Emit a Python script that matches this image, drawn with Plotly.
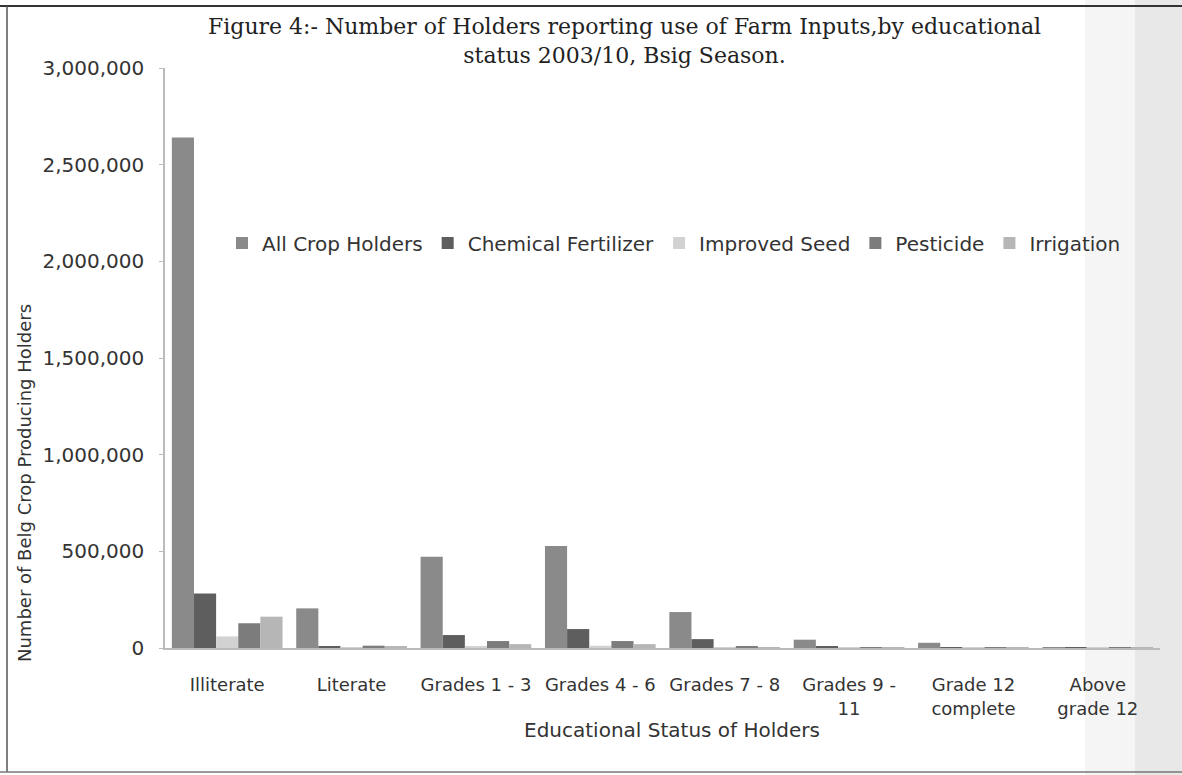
import plotly.graph_objects as go

categories = ["Illiterate", "Literate", "Grades 1 - 3", "Grades 4 - 6", "Grades 7 - 8",
              "Grades 9 -<br>11", "Grade 12<br>complete", "Above<br>grade 12"]
all_crop_holders = [2640000, 205000, 472000, 527000, 186000, 43000, 27000, 4000]
chemical_fertilizer = [282000, 10000, 67000, 98000, 46000, 8000, 3000, 1000]
improved_seed = [60000, 3000, 8000, 12000, 4000, 2000, 1000, 500]
pesticide = [128000, 12000, 36000, 36000, 8000, 3000, 1000, 500]
irrigation = [162000, 9000, 20000, 20000, 4000, 2000, 1000, 500]

series_names = ["All Crop Holders", "Chemical Fertilizer", "Improved Seed", "Pesticide", "Irrigation"]
series_values = [all_crop_holders, chemical_fertilizer, improved_seed, pesticide, irrigation]
colors = ["#8a8a8a", "#5e5e5e", "#d2d2d2", "#7c7c7c", "#b6b6b6"]

fig = go.Figure()
for name, vals, col in zip(series_names, series_values, colors):
    fig.add_trace(go.Bar(name=name, x=categories, y=vals, marker=dict(color=col, line=dict(width=0))))

L, R, T, B = 165, 22, 68, 127
W, H = 1182, 775
pw, ph = W - L - R, H - T - B

def px(x):
    return (x - L) / pw

def py(y):
    return (H - B - y) / ph

fig.update_layout(
    width=W, height=H,
    margin=dict(l=L, r=R, t=T, b=B),
    paper_bgcolor="white", plot_bgcolor="rgba(0,0,0,0)",
    barmode="group", bargap=0.11, bargroupgap=0,
    showlegend=True,
    legend=dict(orientation="h", x=px(222), xanchor="left", y=py(243), yanchor="middle",
                font=dict(family="DejaVu Sans", size=20, color="#333"),
                bgcolor="rgba(0,0,0,0)", itemwidth=30, tracegroupgap=0),
    font=dict(family="DejaVu Sans", color="#333"),
    xaxis=dict(showline=True, linecolor="#bbbbbb", linewidth=1.5, ticks="", showgrid=False,
               tickfont=dict(family="DejaVu Sans", size=18, color="#333"), ticklabelstandoff=20),
    yaxis=dict(range=[0, 3000000], dtick=500000, tickformat=",", showline=True, linecolor="#bbbbbb",
               linewidth=1.5, ticks="outside", ticklen=4, tickcolor="#bbbbbb", showgrid=False,
               zeroline=False, tickfont=dict(family="DejaVu Sans", size=20, color="#333"),
               ticklabelstandoff=11),
)

fig.add_annotation(text="Figure 4:- Number of Holders reporting use of Farm Inputs,by educational<br>status 2003/10, Bsig Season.",
                   xref="paper", yref="paper", x=px(624), y=py(12), xanchor="center", yanchor="top",
                   showarrow=False, font=dict(family="DejaVu Serif", size=22, color="#222"),
                   align="center")
fig.add_annotation(text="Educational Status of Holders", xref="paper", yref="paper",
                   x=px(672), y=py(730), xanchor="center", yanchor="middle", showarrow=False,
                   font=dict(family="DejaVu Sans", size=20, color="#333"))
fig.add_annotation(text="Number of Belg Crop Producing Holders", xref="paper", yref="paper",
                   x=px(25), y=py(483), xanchor="center", yanchor="middle", textangle=-90,
                   showarrow=False, font=dict(family="DejaVu Sans", size=18, color="#333"))

# scan background shading on right side and frame lines
fig.add_shape(type="rect", xref="paper", yref="paper", x0=px(1085), x1=px(1135), y0=py(775), y1=py(0),
              fillcolor="#f5f5f5", line=dict(width=0), layer="below")
fig.add_shape(type="rect", xref="paper", yref="paper", x0=px(1135), x1=px(1182), y0=py(775), y1=py(0),
              fillcolor="#e8e8e8", line=dict(width=0), layer="below")
fig.add_shape(type="line", xref="paper", yref="paper", x0=px(0), x1=px(1182), y0=py(6), y1=py(6),
              line=dict(color="#333", width=2))
fig.add_shape(type="line", xref="paper", yref="paper", x0=px(7), x1=px(7), y0=py(6), y1=py(772),
              line=dict(color="#555", width=1.5))
fig.add_shape(type="line", xref="paper", yref="paper", x0=px(0), x1=px(1182), y0=py(772), y1=py(772),
              line=dict(color="#777", width=1.5))

fig.write_html("out.html", config={"displayModeBar": False},
               post_script="document.body.style.margin='0';document.body.style.overflow='hidden';")
